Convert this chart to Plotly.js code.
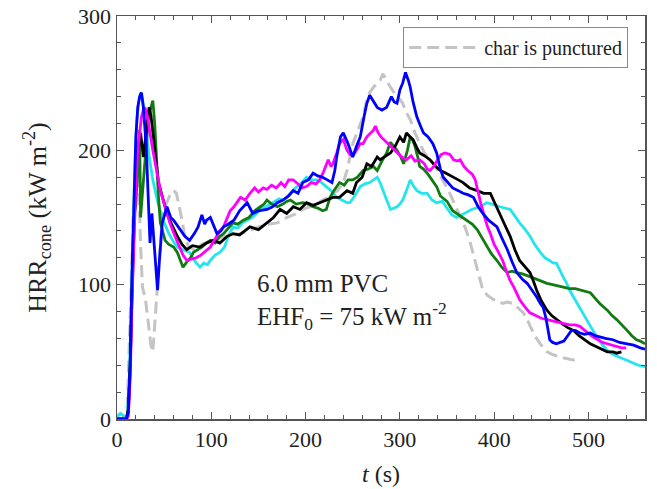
<!DOCTYPE html>
<html>
<head>
<meta charset="utf-8">
<script src="https://cdn.plot.ly/plotly-3.0.1.min.js"></script>
<style>html,body{margin:0;padding:0;background:#fff;}#chart{width:657px;height:489px;}</style>
</head>
<body>
<div id="chart"></div>
<script>
// ---- data (time in s, HRR in kW/m^2) ----
const blackT = [0,5,10,12,14,16,18,20,22,25,28,31,34,36,38,41,44,48,53,58,64,69,74,80,88,95,102,109,117,123,130,141,150,159,166,173,180,187,194,201,208,215,222,229,236,244,250,254,260,265,270,276,279,285,290,295,300,304,307,311,314,318,321,326,332,338,343,349,356,362,367,374,382,389,396,401,406,411,417,422,427,433,438,442,445,450,456,461,466,472,478,484,490,496,502,508,514,520,526,530,535];
const blackHRR = [0,0,0,8,40,95,150,185,200,213,195,215,232,226,212,195,176,165,153,145,136,130,126,129,128,131,133,131,136,138,137,143,141,146,150,156,153,158,156,161,159,161,163,165,165,170,168,176,180,190,188,195,193,196,198,203,210,206,213,210,208,202,198,196,193,188,185,183,180,178,176,172,170,168,168,160,153,145,136,126,118,113,109,102,96,88,81,77,74,71,68,66,62,59,56,54,52,50,50,49,50];

const blueT = [0,10,12,14,16,18,20,22,24,26,28,31,33,35,37,39,41,43,45,48,53,57,60,67,72,77,82,86,90,93,95,99,103,106,110,113,118,124,130,134,138,144,150,159,165,170,176,182,187,192,197,203,208,213,218,223,228,231,233,237,240,245,250,254,258,262,265,268,272,276,281,286,291,294,297,300,303,306,309,311,314,318,322,325,330,335,339,343,346,351,356,362,367,372,378,383,388,394,399,403,408,414,419,424,430,435,440,445,449,452,455,457,459,462,466,470,474,478,482,486,491,496,502,507,512,518,526,533,541,548,555,560];
const blueHRR = [0,0,5,40,110,170,210,232,240,243,232,203,165,131,153,136,118,96,118,146,158,150,148,141,136,133,138,143,152,145,148,150,143,138,140,143,145,148,155,158,161,153,155,156,158,161,163,166,170,168,176,178,183,181,180,178,176,185,195,210,213,205,195,203,210,225,235,241,236,232,230,232,240,236,235,245,250,258,252,247,236,225,218,213,210,205,198,186,180,176,172,170,168,167,165,158,153,148,145,143,135,126,117,109,104,101,96,91,86,83,75,66,59,57,56,57,58,62,66,66,64,63,64,62,61,60,59,57,56,55,53,52];

const greenT = [0,10,12,14,16,18,20,22,24,25,27,30,33,36,38,40,42,44,46,48,51,55,60,64,67,70,74,78,81,86,90,95,99,104,109,113,118,123,128,134,140,146,152,156,159,164,170,176,180,184,190,197,203,208,213,218,222,226,230,236,241,245,250,255,261,266,272,276,281,286,290,294,297,301,304,308,311,314,316,319,321,325,329,334,339,343,350,356,360,365,371,377,382,387,392,397,403,408,414,419,424,430,438,445,450,456,462,468,473,480,486,491,496,502,507,512,520,525,530,536,541,546,551,555,560];
const greenHRR = [0,0,5,40,100,150,160,190,215,150,170,200,222,232,237,220,190,165,146,140,133,130,128,124,118,113,117,120,124,126,128,131,133,131,136,138,142,146,145,148,150,155,158,160,163,160,158,160,162,163,160,161,160,158,157,155,156,165,170,176,174,178,178,180,185,186,188,185,192,198,206,203,200,195,190,200,210,207,203,195,188,186,183,178,173,166,162,155,153,151,148,145,141,135,128,123,118,113,109,110,109,108,106,104,103,101,100,99,98,97,97,96,95,94,90,86,81,77,74,70,66,62,59,58,56];

const cyanT = [0,4,8,11,13,15,17,19,21,23,25,27,29,31,34,38,43,49,55,60,64,70,77,82,88,92,96,99,104,109,114,118,123,128,133,138,143,148,152,158,163,166,172,176,180,186,191,196,201,206,212,217,222,227,233,238,244,247,252,258,263,268,272,276,279,282,286,290,294,297,300,303,307,311,314,318,323,329,334,339,345,350,355,360,366,371,376,380,385,392,398,406,412,417,422,427,433,438,443,449,454,459,463,466,470,473,477,480,484,488,493,498,503,509,514,520,526,533,540,547,553,560];
const cyanHRR = [2,4,1,2,30,90,150,190,222,236,243,238,228,215,196,178,162,148,138,132,128,126,124,118,113,116,115,118,122,124,128,136,143,142,146,148,150,153,156,158,160,161,164,163,165,170,173,176,180,178,178,176,173,170,165,163,161,161,166,173,175,176,178,180,176,170,163,156,157,158,160,163,170,178,174,170,168,168,163,161,162,157,152,150,152,154,156,157,158,161,160,158,157,156,151,146,141,136,130,124,120,118,116,116,110,106,101,96,91,86,80,74,68,61,56,51,48,46,44,42,40,39];

const magentaT = [0,10,12,14,16,18,20,22,24,26,28,30,32,35,38,42,46,51,56,61,66,70,74,79,84,89,94,99,104,109,113,117,120,124,127,131,136,141,146,150,155,159,164,169,174,178,182,187,192,196,201,206,211,215,219,222,224,227,229,233,236,240,244,247,250,254,258,261,265,269,272,274,277,280,283,287,292,297,302,307,312,316,321,326,329,332,336,340,344,348,353,357,361,364,368,372,377,380,383,386,390,393,396,400,404,409,413,417,421,427,432,438,444,450,456,462,468,474,480,486,491,496,501,505,510,515,520,525,530,535,540];
const magentaHRR = [0,0,2,30,90,140,175,200,215,225,230,231,226,212,200,185,170,158,146,137,128,122,118,119,120,122,125,128,134,140,143,150,155,158,161,165,163,168,172,169,172,171,174,172,176,173,178,178,175,172,173,176,175,178,184,190,193,188,190,198,205,208,200,197,196,200,205,205,210,213,215,218,213,210,208,205,202,198,195,193,196,192,193,190,186,185,188,193,197,198,197,193,192,193,188,185,182,178,168,160,150,143,138,130,125,118,110,103,98,89,84,79,77,75,74,73,72,71,70,70,69,66,63,61,59,57,56,55,54,53,53];

const grayT = [0,3,6,9,11,13,15,17,19,21,23,25,27,30,33,36,38,40,42,44,46,48,51,54,57,60,63,66,69,72,76,82,90,100,110,120,130,140,150,160,170,180,187,191,197,205,212,218,224,229,234,240,244,247,250,254,258,261,265,268,272,276,279,282,285,288,290,294,297,300,303,307,311,316,321,326,332,338,343,348,353,358,364,369,374,378,382,385,388,393,399,404,409,414,420,425,431,435,438,443,449,453,456,462,470,477,484,490];
const grayHRR = [2,4,3,2,10,50,100,150,180,195,175,130,98,90,72,55,50,70,95,115,135,150,158,163,168,170,168,158,148,135,128,126,130,133,135,137,138,140,143,145,146,150,152,153,156,158,160,163,165,168,170,176,185,195,205,212,220,225,238,243,247,250,252,257,253,250,247,243,240,238,235,228,223,213,205,198,193,188,181,175,168,160,151,143,133,123,113,104,96,92,89,88,86,87,86,83,79,74,69,62,56,52,50,48,46,45,44,45];

const legendLabel = 'char is punctured';
const xTitle = '<i>t</i> (s)';
const yTitle = 'HRR<sub>cone</sub> (kW m<sup>-2</sup>)';
const noteText = '6.0 mm PVC<br>EHF<sub>0</sub> = 75 kW m<sup>-2</sup>';

const serif = 'Liberation Serif, Times New Roman, serif';
const lw = 2.8;

function solid(x, y, color) {
  return {x: x, y: y, type: 'scatter', mode: 'lines', showlegend: false,
          line: {color: color, width: lw}, hoverinfo: 'skip'};
}

const traces = [
  {x: grayT, y: grayHRR, type: 'scatter', mode: 'lines', name: legendLabel, showlegend: true,
   line: {color: '#c4c4c4', width: 3, dash: '12px,6px'}},
  solid(cyanT, cyanHRR, '#22e5ee'),
  solid(greenT, greenHRR, '#127a12'),
  solid(blackT, blackHRR, '#000000'),
  solid(magentaT, magentaHRR, '#ff00ff'),
  solid(blueT, blueHRR, '#0000ff')
];

const axisCommon = {
  showline: true, linecolor: '#555', linewidth: 1.5, mirror: 'ticks',
  ticks: 'inside', ticklen: 7, tickwidth: 1.2, tickcolor: '#555',
  showgrid: false, zeroline: false,
  tickfont: {family: serif, size: 22, color: '#222'}
};

const layout = {
  width: 657, height: 489,
  margin: {l: 117, r: 12, t: 16, b: 70},
  paper_bgcolor: '#fff', plot_bgcolor: '#fff',
  xaxis: Object.assign({}, axisCommon, {
    range: [0, 560], dtick: 100, tick0: 0,
    minor: {dtick: 20, ticks: 'inside', ticklen: 4, tickcolor: '#555', tickwidth: 1},
    title: {text: xTitle, font: {family: serif, size: 24, color: '#222'}, standoff: 14}
  }),
  yaxis: Object.assign({}, axisCommon, {
    range: [0, 300], dtick: 100, tick0: 0,
    minor: {dtick: 20, ticks: 'inside', ticklen: 4, tickcolor: '#555', tickwidth: 1},
    title: {text: yTitle, font: {family: serif, size: 26, color: '#222'}, standoff: 24}
  }),
  legend: {
    x: 0.542, y: 0.973, xanchor: 'left', yanchor: 'top',
    bgcolor: '#fff', bordercolor: '#888', borderwidth: 1,
    font: {family: serif, size: 20, color: '#222'},
    itemwidth: 70
  },
  annotations: [{
    xref: 'paper', yref: 'paper', x: 0.261, y: 0.29,
    xanchor: 'left', yanchor: 'middle', align: 'left', showarrow: false,
    text: noteText, font: {family: serif, size: 25, color: '#222'}
  }]
};

Plotly.newPlot('chart', traces, layout, {displayModeBar: false, staticPlot: true});
</script>
</body>
</html>
